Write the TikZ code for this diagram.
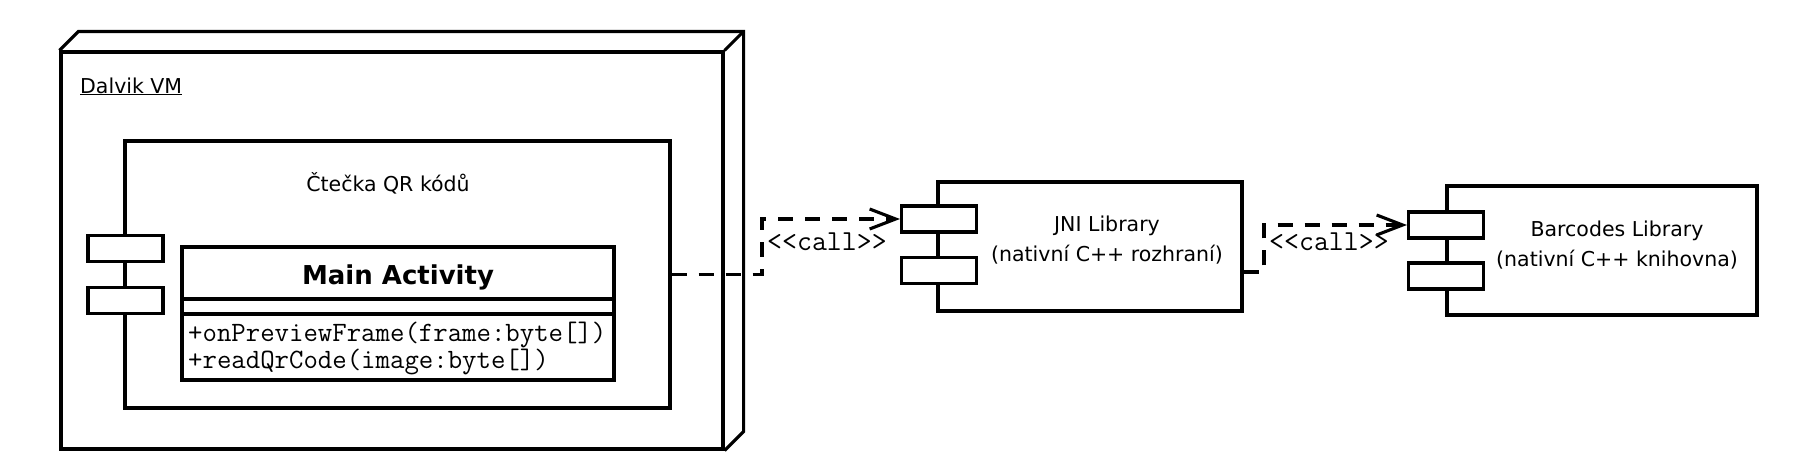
\documentclass[tikz,border=0pt]{standalone}
\usepackage{fontspec}
\setmainfont{DejaVu Sans}
\usetikzlibrary{arrows.meta}
\tikzset{
  lw/.style={line width=3.1pt},
  boxshape/.style={draw, lw, rectangle, inner sep=0pt},
  portbox/.style={boxshape, fill=white, minimum width=75pt, minimum height=26pt},
  lbl/.style={font=\fontsize{20.5}{24}\selectfont, inner sep=0pt, anchor=base},
  mono/.style={font=\ttfamily\fontsize{28}{30}\selectfont, inner sep=0pt, anchor=base west},
  callstyle/.style={font=\ttfamily\fontsize{29}{31}\selectfont, inner sep=0pt, anchor=base west},
  dep/.style={lw, dash pattern=on 15pt off 12pt,
    -{Straight Barb[length=26pt,width=20pt,line width=3.1pt]}}
}
\begin{document}
\begin{tikzpicture}[x=1pt,y=-1pt]
\useasboundingbox (0,0) rectangle (1816,471);
% outer node Dalvik VM
\node[boxshape, minimum width=662pt, minimum height=397pt] (dalvik) at (392,250.5) {};
\draw[lw, line join=miter] (dalvik.north west) -- ++(19,-19) -- ([xshift=19pt,yshift=19pt]dalvik.north east)
  -- ([xshift=19pt,yshift=19pt]dalvik.south east) -- (dalvik.south east);
\draw[lw] (dalvik.north east) -- ++(19,-19);
\node[lbl, anchor=base west] (dalvikt) at (80,93) {\underline{Dalvik VM}};
% inner component
\node[boxshape, minimum width=545pt, minimum height=267pt] (comp) at (397.5,274.5) {};
\node[lbl] (compt) at (388,191) {Čtečka QR kódů};
\node[portbox] (cp1) at (125.5,248.5) {};
\node[portbox] (cp2) at (125.5,300.5) {};
% class Main Activity
\node[boxshape, minimum width=432pt, minimum height=133pt] (cls) at (398,313.5) {};
\draw[lw] (cls.west |- 0,299) -- (cls.east |- 0,299);
\draw[lw] (cls.west |- 0,314) -- (cls.east |- 0,314);
\node[inner sep=0pt, anchor=base, font=\bfseries\fontsize{26}{30}\selectfont] (clst) at (398,284) {Main Activity};
\node[mono] (m1) at (188,341) {+onPreviewFrame(frame:byte[])};
\node[mono] (m2) at (188,368) {+readQrCode(image:byte[])};
% JNI Library
\node[boxshape, minimum width=304pt, minimum height=129pt] (jni) at (1090,246.5) {};
\node[portbox] (jp1) at (939,219) {};
\node[portbox] (jp2) at (939,270.5) {};
\node[lbl] (jnit1) at (1107,231) {JNI Library};
\node[lbl] (jnit2) at (1107,261) {(nativní C++ rozhraní)};
% Barcodes Library
\node[boxshape, minimum width=310pt, minimum height=129pt] (bar) at (1602,250.5) {};
\node[portbox] (bp1) at (1446,225) {};
\node[portbox] (bp2) at (1446,276) {};
\node[lbl] (bart1) at (1617,236) {Barcodes Library};
\node[lbl] (bart2) at (1617,266) {(nativní C++ knihovna)};
% connectors
\coordinate (k1) at (762,274.5);
\draw[dep] (comp.east) -- (k1) |- (jp1.west);
\node[callstyle] (call1) at (767,250) {<\kern0pt<call>\kern0pt>};
\coordinate (k2) at (1264,272);
\draw[dep] ([yshift=-25.5pt]jni.east) -- (k2) |- (bp1.west);
\node[callstyle] (call2) at (1269,250) {<\kern0pt<call>\kern0pt>};
\end{tikzpicture}
\end{document}
